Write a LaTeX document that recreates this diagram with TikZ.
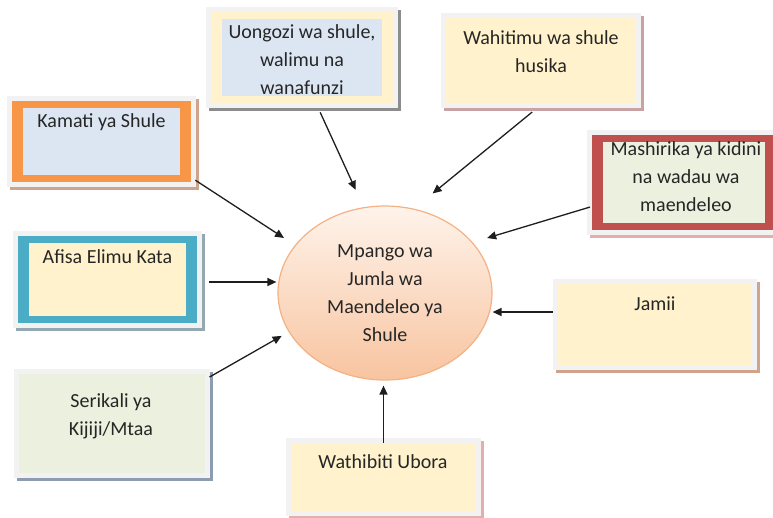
\documentclass[tikz,border=0pt]{standalone}
\usepackage{fontspec}
\setmainfont{Carlito}
\usepackage{tikz}
\usetikzlibrary{arrows.meta,shadows,shapes.geometric}
\usepackage{xcolor}

\definecolor{framegray}{HTML}{F2F2F2}
\definecolor{textcol}{HTML}{262626}
\definecolor{arrowcol}{HTML}{1E1E1E}
\definecolor{paleblue}{HTML}{DCE6F2}
\definecolor{cream}{HTML}{FFF2CC}
\definecolor{palegreen}{HTML}{EBF1DE}
\definecolor{orangeedge}{HTML}{F79646}
\definecolor{rededge}{HTML}{C0504D}
\definecolor{tealedge}{HTML}{4BACC6}
\definecolor{tanshadow}{HTML}{D0A38D}
\definecolor{grayshadow}{HTML}{8C8C8C}
\definecolor{roseshadow}{HTML}{C9A3A4}
\definecolor{pinkshadow}{HTML}{E2AFAD}
\definecolor{blueshadow}{HTML}{93A9B2}
\definecolor{slateshadow}{HTML}{8D9CB0}
\definecolor{plantop}{HTML}{FEF3EA}
\definecolor{planbot}{HTML}{F8C4A0}
\definecolor{planedge}{HTML}{F4B183}

\begin{document}
\begin{tikzpicture}[
    x=1pt, y=-1pt,
    every node/.style = {
      inner sep=0pt,
      text=textcol,
      font=\fontsize{20}{28}\selectfont
    },
    box/.style n args = {3}{
      shape=rectangle,
      fill=#1,
      general shadow={draw=#3, fill=#3, line width=10pt,
        shadow xshift=3pt, shadow yshift=-3pt},
      preaction={draw=framegray, fill=framegray, line width=10pt},
      path picture={
        \fill[#2] ([shift={(11pt,7pt)}]path picture bounding box.south west)
          rectangle ([shift={(-11pt,-7pt)}]path picture bounding box.north east);
      }
    },
    boxtext/.style = {
      align=center,
      anchor=base
    },
    planshape/.style = {
      ellipse,
      draw=planedge,
      line width=1.2pt,
      top color=plantop,
      bottom color=planbot,
      align=center,
      minimum width=214pt,
      minimum height=174pt
    },
    arrow/.style = {
      -{Triangle[length=9pt,width=8pt]},
      line width=1.3pt,
      draw=arrowcol
    }
  ]

    \useasboundingbox (0,0) rectangle (773,517);

    % Centre
    \node[planshape] (plan) at (385,293)
      {Mpango wa\\Jumla wa\\Maendeleo ya\\Shule};

    % Top boxes (base = last line)
    \node[box={cream}{paleblue}{grayshadow},
      minimum width=182pt, minimum height=91pt] (uongozi) at (302,57.5) {};
    \node[boxtext] (uongozi-t) at (302,94)
      {Uongozi wa shule,\\walimu na\\wanafunzi};

    \node[box={cream}{cream}{roseshadow},
      minimum width=190pt, minimum height=85pt] (wahitimu) at (541,60.5) {};
    \node[boxtext] (wahitimu-t) at (541,72) {Wahitimu wa shule\\husika};

    % Left boxes
    \node[box={orangeedge}{paleblue}{tanshadow},
      minimum width=179pt, minimum height=81pt] (kamati) at (101.5,141.5) {};
    \node[boxtext] (kamati-t) at (101.5,127) {Kamati ya Shule};

    \node[box={tealedge}{cream}{blueshadow},
      minimum width=179pt, minimum height=87pt] (afisa) at (107.5,279.5) {};
    \node[boxtext] (afisa-t) at (107.5,263) {Afisa Elimu Kata};

    \node[box={palegreen}{palegreen}{slateshadow},
      minimum width=186pt, minimum height=99pt] (serikali) at (112,423.5) {};
    \node[boxtext] (serikali-t) at (111,435) {Serikali ya\\Kijiji/Mtaa};

    % Right boxes
    \node[box={rededge}{palegreen}{pinkshadow},
      minimum width=184pt, minimum height=95pt] (mashirika) at (684,182.5) {};
    \node[boxtext] (mashirika-t) at (686,211)
      {Mashirika ya kidini\\na wadau wa\\maendeleo};

    \node[box={cream}{cream}{tanshadow},
      minimum width=194pt, minimum height=81pt] (jamii) at (655,324.5) {};
    \node[boxtext] (jamii-t) at (655,310) {Jamii};

    % Bottom box
    \node[box={cream}{cream}{pinkshadow},
      minimum width=185pt, minimum height=68pt] (wathibiti) at (383.5,477) {};
    \node[boxtext] (wathibiti-t) at (383,468) {Wathibiti Ubora};

    % Arrows
    \coordinate (afisa-out) at ([yshift=-2.5pt]afisa.east);
    \coordinate (jamii-out) at ([yshift=12.5pt]jamii.west);

    \draw[arrow, shorten <=5pt, shorten >=13pt] ([yshift=-36pt]kamati.east) -- (plan.152);
    \draw[arrow, shorten <=10pt, shorten >=19pt] ([xshift=14pt]uongozi.south) -- (plan.104);
    \draw[arrow, shorten <=14pt, shorten >=24pt] ([xshift=2pt]wahitimu.south) -- (plan.71);
    \draw[arrow, shorten <=2pt, shorten >=15pt] ([yshift=-24pt]mashirika.west) -- (plan.30);
    \draw[arrow, shorten <=12pt, shorten >=1pt] (afisa-out) -- (afisa-out -| plan.west);
    \draw[arrow, shorten <=5pt, shorten >=8pt] ([yshift=44pt]serikali.east) -- (plan.202);
    \draw[arrow, shorten <=5pt] (jamii-out) -- (jamii-out -| plan.east);
    \draw[arrow, shorten >=5pt] (wathibiti.north) -- (wathibiti.north |- plan.south);

  \end{tikzpicture}
\end{document}
